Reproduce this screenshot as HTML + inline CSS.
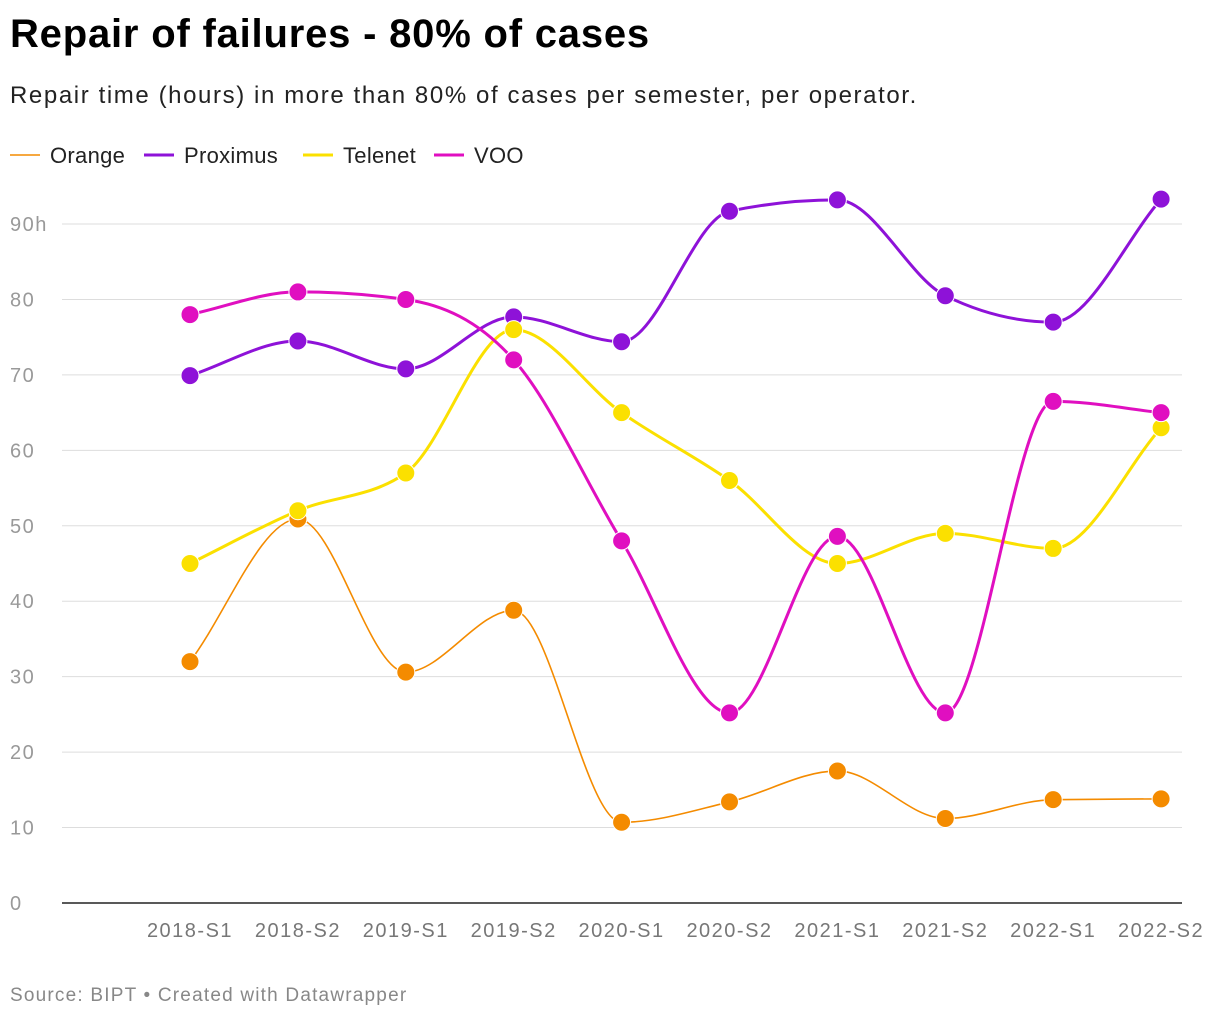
<!DOCTYPE html>
<html><head><meta charset="utf-8">
<style>
body{margin:0;background:#fff;font-family:"Liberation Sans",sans-serif;width:1220px;height:1020px;overflow:hidden;position:relative}
.t{position:absolute;left:10px;top:12px;font-size:40px;font-weight:bold;color:#000;letter-spacing:0.8px}
.s{position:absolute;left:10px;top:82px;font-size:24px;color:#222;letter-spacing:1.6px}
.src{position:absolute;left:10px;top:985px;font-size:19px;color:#888;letter-spacing:1.2px}
svg{position:absolute;left:0;top:0}
</style></head><body>
<div class="t">Repair of failures - 80% of cases</div>
<div class="s">Repair time (hours) in more than 80% of cases per semester, per operator.</div>
<svg id="c" width="1220" height="1020"></svg>
<div class="src">Source: BIPT • Created with Datawrapper</div>
<script>
const categories=["2018-S1","2018-S2","2019-S1","2019-S2","2020-S1","2020-S2","2021-S1","2021-S2","2022-S1","2022-S2"];
const orange=[32,50.9,30.6,38.8,10.7,13.4,17.5,11.2,13.7,13.8];
const proximus=[69.9,74.5,70.8,77.7,74.4,91.7,93.2,80.5,77,93.3];
const telenet=[45,52,57,76,65,56,45,49,47,63];
const voo=[78,81,80,72,48,25.2,48.6,25.2,66.5,65];
const yTicks=[0,10,20,30,40,50,60,70,80,90];
const seriesNames=["Orange","Proximus","Telenet","VOO"];
const seriesColors=["#f48b00","#8e12d8","#fbe000","#e00fc0"];
const seriesWidths=[1.6,3,3,3];
const seriesData=[orange,proximus,telenet,voo];
const NS="http://www.w3.org/2000/svg";
const svg=document.getElementById('c');
const x=i=>190+i*107.9;
const y=v=>903-v*7.544;
function mk(t,a){const e=document.createElementNS(NS,t);for(const k in a)e.setAttribute(k,a[k]);svg.appendChild(e);return e;}
yTicks.forEach(v=>{
  if(v>0){const g=mk('line',{x1:62,x2:1182,y1:y(v),y2:y(v),stroke:'#ddd','stroke-width':1});
  
  }
  const t=mk('text',{x:10,y:y(v)+7,'font-size':20,fill:'#999','letter-spacing':'1.5px'});
  t.textContent=v===90?'90h':String(v);
  
  
});
const ax=mk('line',{x1:62,x2:1182,y1:903,y2:903,stroke:'#222','stroke-width':1.5});


categories.forEach((c,i)=>{
  const t=mk('text',{x:x(i),y:937,'font-size':20,fill:'#777','text-anchor':'middle','letter-spacing':'1.5px'});
  t.textContent=c;
  
  
});
function monotone(vals){
  const n=vals.length,px=vals.map((v,i)=>x(i)),py=vals.map(y);
  const d=[],m=[];
  for(let i=0;i<n-1;i++)d.push((py[i+1]-py[i])/(px[i+1]-px[i]));
  for(let i=0;i<n;i++){
    if(i===0)m.push(d[0]);else if(i===n-1)m.push(d[n-2]);
    else{if(d[i-1]*d[i]<=0)m.push(0);else{const s=(d[i-1]+d[i])/2;m.push(Math.sign(s)*Math.min(Math.abs(s),2*Math.abs(d[i-1]),2*Math.abs(d[i])));}}
  }
  let p='M'+px[0]+','+py[0];
  for(let i=0;i<n-1;i++){const h=(px[i+1]-px[i])/3;
    p+=' C'+(px[i]+h)+','+(py[i]+m[i]*h)+' '+(px[i+1]-h)+','+(py[i+1]-m[i+1]*h)+' '+px[i+1]+','+py[i+1];}
  return p;
}
seriesData.forEach((vals,s)=>{
  const l=mk('path',{d:monotone(vals),fill:'none',stroke:seriesColors[s],'stroke-width':seriesWidths[s]});
  
  
});
seriesData.forEach((vals,s)=>{
  vals.forEach((v,i)=>{
    const c=mk('circle',{cx:x(i),cy:y(v),r:9,fill:seriesColors[s],stroke:'#fff','stroke-width':1});
    
    
  });
});
const lx=[10,144,303,434];
seriesNames.forEach((n,s)=>{
  const l=mk('line',{x1:lx[s],x2:lx[s]+30,y1:155,y2:155,stroke:seriesColors[s],'stroke-width':seriesWidths[s]});
  
  
  const t=mk('text',{x:lx[s]+40,y:163,'font-size':22,fill:'#222','letter-spacing':'0.3px'});
  t.textContent=n;
  
  
});
</script>
</body></html>
